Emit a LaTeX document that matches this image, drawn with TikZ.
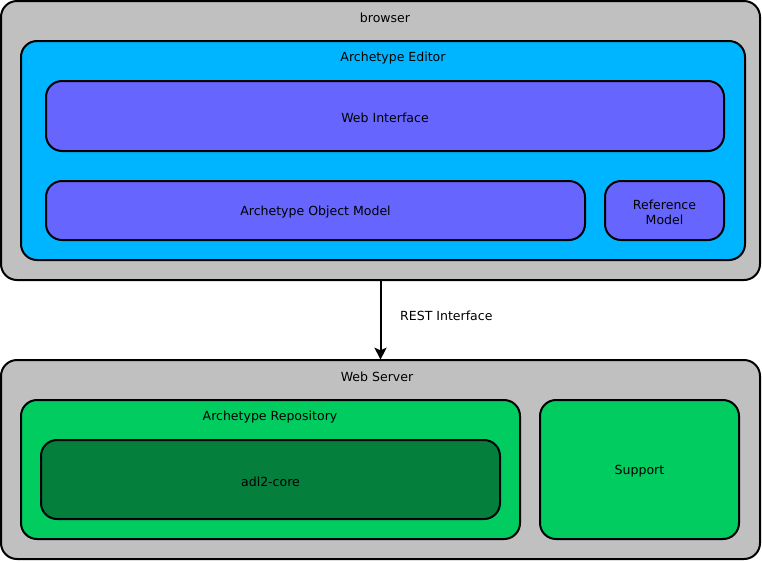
\documentclass[tikz,border=0pt]{standalone}
\usepackage{fontspec}
\setmainfont{DejaVu Sans}
\usetikzlibrary{arrows.meta,fit}
\definecolor{browsergray}{RGB}{192,192,192}
\definecolor{editorblue}{RGB}{0,181,255}
\definecolor{modelviolet}{RGB}{102,102,255}
\definecolor{repogreen}{RGB}{0,204,96}
\definecolor{coregreen}{RGB}{4,128,60}
\begin{document}
\begin{tikzpicture}[x=0.75pt,y=-0.75pt,>=Stealth,
  box/.style={draw=black,line width=1.5pt,rounded corners=12pt,inner sep=0pt},
  txt/.style={font=\fontsize{9.4}{11}\selectfont,align=center,inner sep=0pt,yshift=-1.5pt}]
  \useasboundingbox (0,0) rectangle (762,562);
  % browser side
  \node[box,fill=browsergray,fit={(1,1) (760,280)}] (browser) {};
  \node[txt] at (385,16) {browser};
  \node[box,fill=editorblue,fit={(21,41) (745,260)}] (editor) {};
  \node[txt] at (393,56) {Archetype Editor};
  \node[box,fill=modelviolet,fit={(46,81) (724,151)}] (webif) {};
  \node[txt] at (webif) {Web Interface};
  \node[box,fill=modelviolet,fit={(46,181) (585,240)}] (aom) {};
  \node[txt] at (aom) {Archetype Object Model};
  \node[box,fill=modelviolet,fit={(605,181) (724,240)}] (refmodel) {};
  \node[txt] at (refmodel) {Reference\\Model};
  % server side
  \node[box,fill=browsergray,fit={(1,360) (760,559)}] (server) {};
  \node[txt] at (377,375) {Web Server};
  \node[box,fill=repogreen,fit={(21,400) (520,539)}] (repo) {};
  \node[txt] at (270,415) {Archetype Repository};
  \node[box,fill=coregreen,fit={(41,440) (500,519)}] (core) {};
  \node[txt] at (core) {adl2-core};
  \node[box,fill=repogreen,fit={(540,400) (739,539)}] (support) {};
  \node[txt] at (support) {Support};
  % REST link
  \draw[line width=1.5pt,shorten >=-0.5pt,-{Stealth[length=9pt,width=9pt,inset=2pt]}]
    (browser.south) -- node[txt,right=14pt,yshift=4.5pt] {REST Interface} (server.north);
\end{tikzpicture}
\end{document}
